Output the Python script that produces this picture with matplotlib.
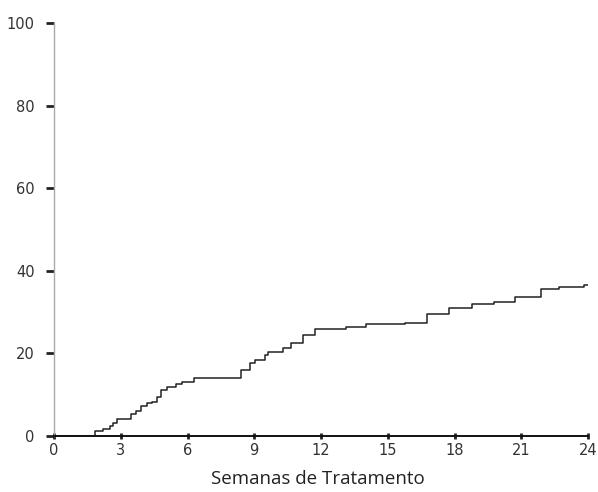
import matplotlib
matplotlib.use("Agg")
import matplotlib.pyplot as plt

# Step curve (weeks, cumulative %)
weeks = [0, 1.83, 2.19, 2.50, 2.63, 2.85, 3.48, 3.70, 3.93, 4.19, 4.42, 4.64, 4.82,
         5.08, 5.49, 5.75, 6.29, 8.39, 8.83, 9.05, 9.50, 9.63, 10.30, 10.66, 11.20,
         11.73, 13.11, 14.0, 15.79, 16.77, 17.75, 18.78, 19.76, 20.70, 21.90, 22.70,
         23.82, 24.0]
values = [0, 1.2, 1.7, 2.4, 3.1, 4.1, 5.3, 6.1, 7.3, 8.0, 8.2, 9.4, 11.1,
          11.9, 12.6, 13.1, 14.0, 16.0, 17.7, 18.4, 19.6, 20.3, 21.3, 22.5, 24.5,
          25.9, 26.4, 27.1, 27.4, 29.5, 31.0, 32.0, 32.4, 33.7, 35.6, 36.1,
          36.6, 36.6]

x_ticks = [0, 3, 6, 9, 12, 15, 18, 21, 24]
y_ticks = [0, 20, 40, 60, 80, 100]
x_label = "Semanas de Tratamento"

fig = plt.figure(figsize=(5.98, 4.92), dpi=100)
ax = fig.add_axes([54/598, 56/492, 534/598, (436-23)/492])

ax.step(weeks, values, where="post", color="#222222", linewidth=1.1)

ax.set_xlim(0, 24)
ax.set_ylim(0, 100)
ax.set_xticks(x_ticks)
ax.set_yticks(y_ticks)
ax.set_xticklabels([str(t) for t in x_ticks])
ax.set_yticklabels([str(t) for t in y_ticks])

for s in ["top", "right"]:
    ax.spines[s].set_visible(False)
ax.spines["bottom"].set_color("#111111")
ax.spines["bottom"].set_linewidth(1.4)
ax.spines["left"].set_color("#aaaaaa")
ax.spines["left"].set_linewidth(1.0)

ax.tick_params(axis="y", direction="out", length=6, width=2, color="#222222",
               labelsize=10.5, labelcolor="#333333", pad=8)
ax.tick_params(axis="x", direction="inout", length=4, width=2, color="#222222",
               labelsize=10.5, labelcolor="#333333", pad=3)

fig.text(318/598, 4/492, x_label, ha="center", va="bottom", fontsize=13.5,
         family="Open Sans", color="#222222")

fig.savefig("out.png", dpi=100, facecolor="white")
